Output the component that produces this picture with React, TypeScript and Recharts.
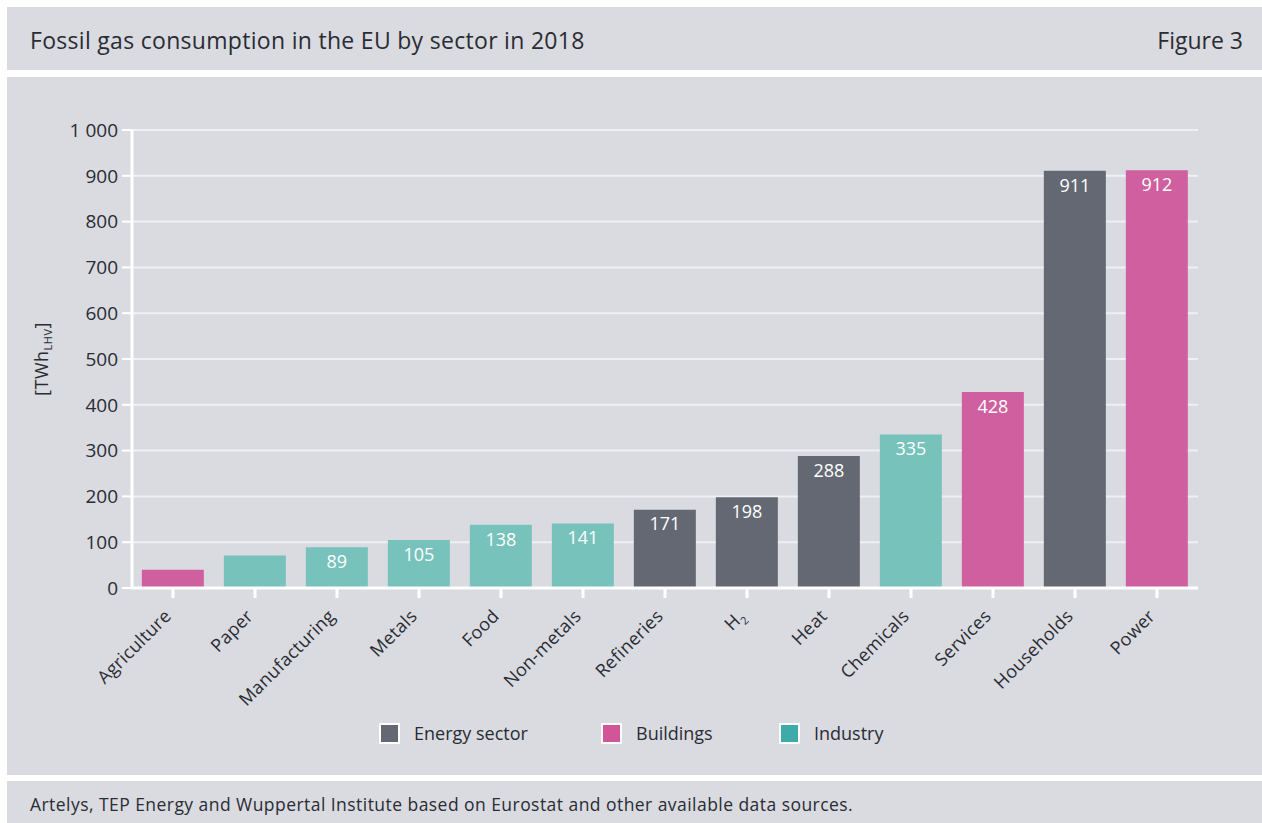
import React from "react";
import { BarChart, Bar, XAxis, YAxis, CartesianGrid, Cell, LabelList } from "recharts";

const categories = [
  "Agriculture",
  "Paper",
  "Manufacturing",
  "Metals",
  "Food",
  "Non-metals",
  "Refineries",
  "H2",
  "Heat",
  "Chemicals",
  "Services",
  "Households",
  "Power",
];
const values = [40, 71, 89, 105, 138, 141, 171, 198, 288, 335, 428, 911, 912];
const sectors = [
  "Buildings",
  "Industry",
  "Industry",
  "Industry",
  "Industry",
  "Industry",
  "Energy sector",
  "Energy sector",
  "Energy sector",
  "Industry",
  "Buildings",
  "Energy sector",
  "Buildings",
];
const showValue = [false, false, true, true, true, true, true, true, true, true, true, true, true];
const yTicks = [0, 100, 200, 300, 400, 500, 600, 700, 800, 900, 1000];
const legendItems = ["Energy sector", "Buildings", "Industry"];

const barColors: Record<string, string> = {
  "Energy sector": "#646873",
  Buildings: "#d05fa0",
  Industry: "#77c2bb",
};
const legendColors: Record<string, string> = {
  "Energy sector": "#646873",
  Buildings: "#d05599",
  Industry: "#3eaaa9",
};
// left edge of each legend swatch, relative to the chart panel
const legendLeft = [372, 594, 772];

const FONT = "'Open Sans', 'Noto Sans', sans-serif";
const PANEL = "#d9dbe1";
const TEXT = "#2a2c33";

const data = categories.map((name, i) => ({
  name,
  value: values[i],
  sector: sectors[i],
  label: showValue[i] ? values[i] : null,
}));

const fmt = (v: number) => (v >= 1000 ? v.toString().replace(/(\d)(?=(\d{3})+$)/g, "$1 ") : String(v));

function XTick({ x, y, payload }: any) {
  const isH2 = payload.value === "H2";
  return (
    <g transform={`translate(${x - 5},${y + 13})`}>
      <text
        transform="rotate(-45)"
        textAnchor="end"
        dy={6}
        fill={TEXT}
        fontSize={18}
        fontFamily={FONT}
        letterSpacing={0.3}
      >
        {isH2 ? (
          <>
            H<tspan fontSize={11} dy={5}>2</tspan>
          </>
        ) : (
          payload.value
        )}
      </text>
    </g>
  );
}

function YLabel({ viewBox }: any) {
  const cx = 41;
  const cy = viewBox.y + viewBox.height / 2;
  return (
    <text
      transform={`translate(${cx},${cy}) rotate(-90)`}
      textAnchor="middle"
      fill={TEXT}
      fontSize={18}
      fontFamily={FONT}
      letterSpacing={0.5}
    >
      [TWh<tspan fontSize={11} dy={4}>LHV</tspan>
      <tspan dy={-4}>]</tspan>
    </text>
  );
}

export default function App() {
  return (
    <div
      style={{
        position: "fixed",
        left: 0,
        top: 0,
        width: 1262,
        height: 823,
        background: "#ffffff",
        fontFamily: FONT,
        color: TEXT,
        overflow: "hidden",
      }}
    >
      <div
        style={{
          position: "absolute",
          left: 7,
          top: 7,
          width: 1255,
          height: 63,
          background: PANEL,
        }}
      >
        <div
          style={{
            position: "absolute",
            left: 23,
            top: 19,
            fontSize: 23,
            lineHeight: "28px",
            letterSpacing: 0.3,
          }}
        >
          Fossil gas consumption in the EU by sector in 2018
        </div>
        <div style={{ position: "absolute", right: 19, top: 19, fontSize: 23, lineHeight: "28px" }}>
          Figure 3
        </div>
      </div>

      <div
        style={{
          position: "absolute",
          left: 7,
          top: 77,
          width: 1255,
          height: 698,
          background: PANEL,
        }}
      >
        <BarChart
          width={1255}
          height={698}
          data={data}
          margin={{ top: 53, right: 64, bottom: 67, left: 35 }}
          barCategoryGap="12%"
        >
          <CartesianGrid vertical={false} stroke="#eef0f2" strokeWidth={2} />
          <XAxis
            dataKey="name"
            interval={0}
            height={120}
            tick={<XTick />}
            tickLine={{ stroke: "#ffffff", strokeWidth: 3 }}
            tickSize={10}
            axisLine={{ stroke: "#ffffff", strokeWidth: 3 }}
          />
          <YAxis
            width={90}
            domain={[0, 1000]}
            ticks={yTicks}
            interval={0}
            tickFormatter={fmt}
            tick={{ fill: TEXT, fontSize: 19, fontFamily: FONT }}
            tickLine={{ stroke: "#ffffff", strokeWidth: 2 }}
            tickSize={10}
            tickMargin={4}
            axisLine={{ stroke: "#ffffff", strokeWidth: 3 }}
            label={<YLabel />}
          />
          <Bar dataKey="value" isAnimationActive={false}>
            {data.map((d, i) => (
              <Cell key={i} fill={barColors[d.sector]} />
            ))}
            <LabelList
              dataKey="label"
              position="insideTop"
              offset={8}
              fill="#ffffff"
              fontSize={18}
              fontFamily={FONT}
            />
          </Bar>
        </BarChart>

        {legendItems.map((item, i) => (
          <div
            key={item}
            style={{
              position: "absolute",
              left: legendLeft[i],
              top: 644,
              display: "flex",
              alignItems: "center",
              fontSize: 18,
              whiteSpace: "nowrap",
            }}
          >
            <span
              style={{
                display: "inline-block",
                width: 21,
                height: 21,
                background: legendColors[item],
                border: "2px solid #ffffff",
                marginRight: 14,
                boxSizing: "border-box",
              }}
            />
            {item}
          </div>
        ))}
      </div>

      <div
        style={{
          position: "absolute",
          left: 7,
          top: 781,
          width: 1255,
          height: 42,
          background: PANEL,
        }}
      >
        <div
          style={{
            position: "absolute",
            left: 23,
            top: 11,
            fontSize: 17.5,
            letterSpacing: 0.45,
            whiteSpace: "nowrap",
          }}
        >
          Artelys, TEP Energy and Wuppertal Institute based on Eurostat and other available data sources.
        </div>
      </div>
    </div>
  );
}
